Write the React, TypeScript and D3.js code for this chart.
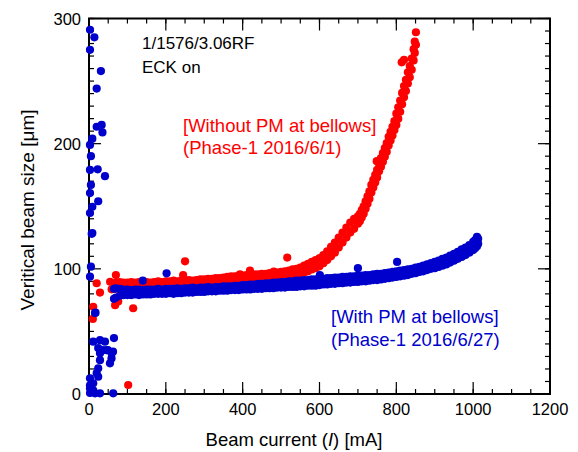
import React from "react";
import * as d3 from "d3";

const W = 578;
const H = 452;

const xTicks = [0, 200, 400, 600, 800, 1000, 1200];
const xTickLabels = ["0", "200", "400", "600", "800", "1000", "1200"];
const yTicks = [0, 100, 200, 300];
const yTickLabels = ["0", "100", "200", "300"];

// Red series (Without PM at bellows): band read as [I, upper V, lower V]
const redBand: [number, number, number][] = [
  [70, 89, 84], [80, 89.5, 85], [90, 89, 85], [100, 89, 85], [110, 89.5, 85], [120, 89, 85.5],
  [130, 89.5, 85], [140, 89, 85.5], [150, 89.5, 85.5], [160, 89, 85.5], [170, 89.5, 86], [180, 90, 86],
  [190, 89.5, 86], [200, 90, 86], [210, 90, 86.5], [220, 90.5, 86.5], [230, 90, 86.5], [240, 90.5, 86.5],
  [250, 90.5, 87], [260, 91, 87], [270, 90.5, 87], [280, 91, 87], [290, 91.5, 87.5], [300, 91.5, 87.5],
  [310, 92, 87.5], [320, 92, 88], [330, 92.5, 88], [340, 92.5, 88.5], [350, 93, 88.5], [360, 93.5, 89],
  [370, 94, 89], [380, 94, 89.5], [390, 94.5, 89.5], [400, 94.5, 90], [410, 95, 90], [420, 95, 90.5],
  [430, 95.5, 90.5], [440, 95.5, 91], [450, 96, 91], [460, 96, 91.5], [470, 96.5, 91.5], [480, 96.5, 92],
  [490, 97, 92], [500, 97.5, 92.5], [510, 98, 93], [520, 98.5, 93.5], [530, 99.5, 94], [540, 100, 95],
  [550, 101, 96], [560, 102.5, 97], [570, 104, 98], [580, 105.5, 99.5], [590, 107, 100.5], [600, 108.5, 102],
  [610, 111, 104.5], [620, 114, 107], [630, 117.5, 110], [640, 121, 113], [650, 125, 117], [660, 129, 121],
  [670, 133, 125], [680, 137, 129], [690, 140, 132], [700, 142, 136], [705, 144, 138], [710, 147, 141],
  [715, 150, 144], [720, 154, 148], [725, 158, 152], [730, 162, 156], [735, 167, 161], [740, 171, 165],
  [745, 175, 169], [750, 179, 173], [755, 184, 178], [760, 188.5, 181.5], [765, 192.5, 185.5], [770, 196.5, 189.5],
  [775, 200.5, 193.5], [780, 205.5, 198.5], [785, 209.5, 202.5], [790, 213.5, 206.5], [795, 218, 211], [800, 224, 215],
  [805, 229, 220], [810, 234.5, 225.5], [815, 240.5, 231.5], [820, 246, 237], [825, 251, 242], [830, 257, 248],
  [835, 262, 253], [840, 268, 259], [845, 275.5, 266.5], [848, 281.5, 272.5], [851, 289, 279],
];
const redScatter: [number, number][] = [
  [20, 88.5], [28.6, 81], [11, 69.7], [10, 60], [55, 89.7], [70, 95], [59, 83.6], [68, 71], [76, 74],
  [115, 68.5], [102, 7.2], [245, 95], [250, 106], [393, 95.5], [419, 98.5], [481, 97.7], [516, 109],
  [749, 186], [814, 265], [820, 267],
];

// Blue series (With PM at bellows): band read as [I, upper V, lower V]
const blueBand: [number, number, number][] = [
  [65, 84, 76], [70, 84.5, 77], [80, 84, 78.5], [90, 83.5, 79], [100, 83.5, 79], [110, 83, 79],
  [120, 83.5, 79.5], [130, 83.5, 79], [140, 83, 79.5], [150, 83.5, 79.5], [160, 83.5, 79.5], [170, 83.5, 80],
  [180, 84, 80], [190, 83.5, 80], [200, 84, 80], [210, 84, 80.5], [220, 84, 80], [230, 84.5, 80.5],
  [240, 84, 80.5], [250, 84.5, 81], [260, 84.5, 81], [270, 85, 81], [280, 84.5, 81.5], [290, 85, 81.5],
  [300, 85, 81.5], [310, 85.5, 82], [320, 85, 82], [330, 85.5, 82], [340, 85.5, 82.5], [350, 86, 82.5],
  [360, 86, 82.5], [370, 86, 83], [380, 86.5, 83], [390, 86.5, 83], [400, 87, 83.5], [410, 87, 83.5],
  [420, 87.5, 83.5], [430, 87.5, 84], [440, 88, 84], [450, 88, 84], [460, 88.5, 84.5], [470, 88.5, 84.5],
  [480, 89, 84.5], [490, 89, 85], [500, 89.5, 85], [510, 89.5, 85], [520, 90, 85.5], [530, 90, 85.5],
  [540, 90.5, 85.5], [550, 90.5, 86], [560, 91, 86], [570, 91, 86.5], [580, 91.5, 86.5], [590, 91.5, 86.5],
  [600, 92, 87], [610, 92, 87.5], [620, 92.5, 87.5], [630, 92.5, 88], [640, 93, 88], [650, 93, 88.5],
  [660, 93.5, 88.5], [670, 93.5, 89], [680, 94, 89], [690, 94, 89.5], [700, 94.5, 89.5], [710, 94.5, 90],
  [720, 95, 90], [730, 95, 90.5], [740, 95.5, 91], [750, 96, 91], [760, 96, 91.5], [770, 96.5, 92],
  [780, 97, 92.5], [790, 97.5, 93], [800, 98, 93.5], [810, 98.5, 94], [820, 99, 94.5], [830, 99.5, 95],
  [840, 100, 96], [850, 101, 96.5], [860, 101.5, 97.5], [870, 102.5, 98], [880, 103.5, 99], [890, 104.5, 100],
  [900, 105.5, 100.5], [910, 106.5, 101.5], [920, 108, 102.5], [930, 109, 103.5], [940, 110.5, 105],
  [950, 112, 106.5], [960, 113.5, 108], [970, 115.5, 109.5], [980, 117, 111], [990, 119, 113],
  [1000, 121.5, 115], [1005, 123, 116.5], [1010, 125.5, 118], [1013, 124, 120],
];
const blueScatter: [number, number][] = [
  [2.6, 291], [14, 285], [2.6, 275], [31, 258], [20, 244], [20, 213.5], [33, 215], [35, 209], [8.7, 204],
  [2.6, 199], [5, 190], [2.6, 179], [22.6, 179.5], [41.6, 174], [5, 167], [2.6, 160.5], [24, 154],
  [8.7, 149.6], [2.6, 144.6], [8.7, 128.6], [7, 128], [5, 101.7], [2.6, 93.7], [17, 65], [15.6, 64.7],
  [11, 41.8], [65, 44.7], [28.6, 43], [41.6, 41.8], [24, 36.7], [36, 35], [49, 35], [46, 35], [28.6, 32.6],
  [59, 32.6], [58.6, 28.4], [28.6, 27], [54.6, 24.5], [62.5, 33.8], [24, 20.5], [20, 16.6], [24, 13.8],
  [2.6, 12.5], [2.6, 7], [11, 8.6], [11, 3], [2.6, 4.5], [15.6, 0.5], [28.6, 0.5], [7, 3], [2.6, 0.8],
  [63, 0.5], [140, 90.5], [202, 96.4], [601, 95], [700, 100.5], [802, 105.5],
];

const RED = "#ff0000";
const BLUE = "#0000cc";
const FONT = "'Liberation Sans', Arial, sans-serif";
const R = 4.1;

export default function App() {
  const x = d3.scaleLinear().domain([0, 1200]).range([89, 550]);
  const y = d3.scaleLinear().domain([0, 300]).range([394, 18.5]);
  const [x0, x1] = x.range();
  const [y0, y1] = y.range();

  const redPts: [number, number][] = [
    ...redBand.flatMap(([i, u, l]) => [[i, u], [i, l]] as [number, number][]),
    ...redScatter,
  ];
  const bluePts: [number, number][] = [
    ...blueBand.flatMap(([i, u, l]) => [[i, u], [i, l]] as [number, number][]),
    ...blueScatter,
  ];

  const xMinor = d3.range(0, 1201, 50);
  const yMinor = d3.range(0, 301, 10);
  const MAJ = 12;
  const MIN = 5;

  return (
    <svg width={W} height={H} style={{ position: "absolute", left: 0, top: 0, background: "#fff" }} fontFamily={FONT}>
      <rect x={0} y={0} width={W} height={H} fill="#fff" />
      <g stroke="#000" strokeWidth={1.2}>
        {xMinor.map((v) => (
          <g key={"xm" + v}>
            <line x1={x(v)} x2={x(v)} y1={y0} y2={y0 - MIN} />
            <line x1={x(v)} x2={x(v)} y1={y1} y2={y1 + MIN} />
          </g>
        ))}
        {xTicks.map((v) => (
          <g key={"xM" + v}>
            <line x1={x(v)} x2={x(v)} y1={y0} y2={y0 - MAJ} />
            <line x1={x(v)} x2={x(v)} y1={y1} y2={y1 + MAJ} />
          </g>
        ))}
        {yMinor.map((v) => (
          <g key={"ym" + v}>
            <line x1={x0} x2={x0 + MIN} y1={y(v)} y2={y(v)} />
            <line x1={x1} x2={x1 - MIN} y1={y(v)} y2={y(v)} />
          </g>
        ))}
        {yTicks.map((v) => (
          <g key={"yM" + v}>
            <line x1={x0} x2={x0 + MAJ} y1={y(v)} y2={y(v)} />
            <line x1={x1} x2={x1 - MAJ} y1={y(v)} y2={y(v)} />
          </g>
        ))}
      </g>
      <rect x={x0} y={y1} width={x1 - x0} height={y0 - y1} fill="none" stroke="#000" strokeWidth={2} />

      <g fontSize={16.5} fill="#000">
        {xTicks.map((v, i) => (
          <text key={"xl" + v} x={x(v)} y={415} textAnchor="middle">{xTickLabels[i]}</text>
        ))}
        {yTicks.map((v, i) => (
          <text key={"yl" + v} x={81} y={y(v) + 6} textAnchor="end">{yTickLabels[i]}</text>
        ))}
      </g>

      <text x={294} y={445.5} fontSize={18.5} textAnchor="middle" fill="#000">
        Beam current (<tspan fontStyle="italic">I</tspan>) [mA]
      </text>
      <text transform="translate(33.5,210) rotate(-90)" fontSize={19} textAnchor="middle" fill="#000">
        Veritical beam size [μm]
      </text>

      <g fill={RED}>
        {redPts.map(([i, v], k) => (
          <circle key={"r" + k} cx={x(i)} cy={y(v)} r={R} />
        ))}
      </g>
      <g fill={BLUE}>
        {bluePts.map(([i, v], k) => (
          <circle key={"b" + k} cx={x(i)} cy={y(v)} r={R} />
        ))}
      </g>

      <g fontSize={17} fill="#000">
        <text x={142} y={49}>1/1576/3.06RF</text>
        <text x={142} y={72.7}>ECK on</text>
      </g>
      <g fontSize={18.5} fill={RED}>
        <text x={183} y={132}>[Without PM at bellows]</text>
        <text x={183} y={153.5}>(Phase-1 2016/6/1)</text>
      </g>
      <g fontSize={18.5} fill={BLUE}>
        <text x={331} y={323.3}>[With PM at bellows]</text>
        <text x={331} y={345.7}>(Phase-1 2016/6/27)</text>
      </g>
    </svg>
  );
}
